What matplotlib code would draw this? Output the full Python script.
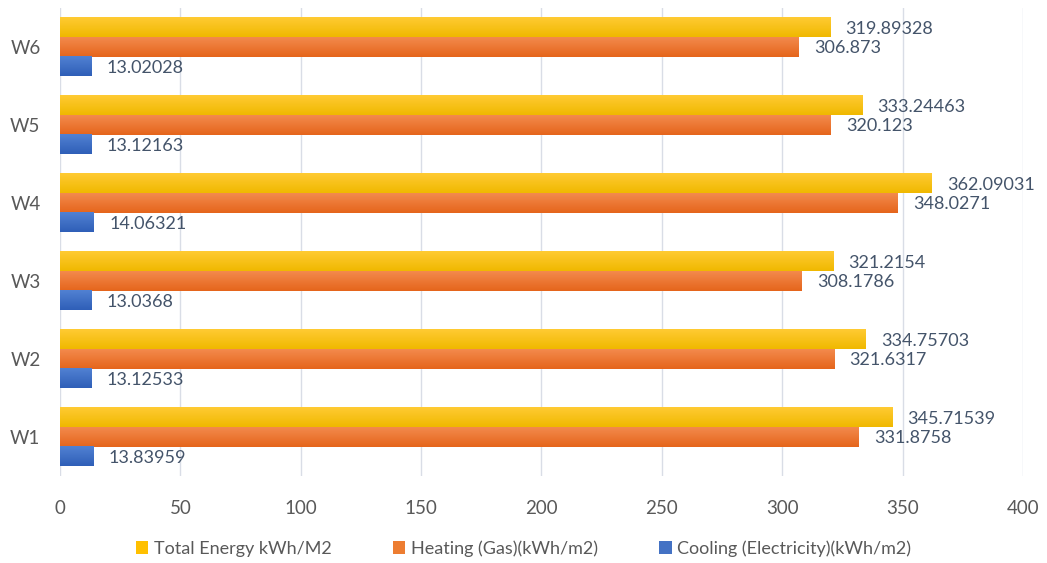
import numpy as np
import matplotlib.pyplot as plt
from matplotlib.colors import to_rgb
from matplotlib.patches import Patch

plt.rcParams['font.family'] = ['Lato', 'DejaVu Sans']

# energy results per window option
categories = ['W1', 'W2', 'W3', 'W4', 'W5', 'W6']
total_energy = [345.71539, 334.75703, 321.2154, 362.09031, 333.24463, 319.89328]
heating_gas = [331.8758, 321.6317, 308.1786, 348.0271, 320.123, 306.873]
cooling_elec = [13.83959, 13.12533, 13.0368, 14.06321, 13.12163, 13.02028]

series_names = ['Total Energy kWh/M2', 'Heating (Gas)(kWh/m2)', 'Cooling (Electricity)(kWh/m2)']
series_vals = [total_energy, heating_gas, cooling_elec]
# (top, bottom) colours of the vertical gradient on each bar
series_cols = [('#FFCB33', '#F0B800'), ('#F38A4C', '#E5651C'), ('#5181D2', '#2F5FB8')]
legend_cols = ['#FFC000', '#ED7D31', '#4472C4']

text_col = '#44546A'
tick_col = '#595959'

fig = plt.figure(figsize=(10.47, 5.63), dpi=100)
ax = fig.add_axes([0.0573, 0.1545, 0.9197, 0.8313])

y = np.arange(len(categories))
h = 0.25
offsets = [h, 0, -h]


def gradient_bar(ax, patch, top, bottom):
    x0, y0 = patch.get_x(), patch.get_y()
    w, hh = patch.get_width(), patch.get_height()
    c_top = np.array(to_rgb(top))
    c_bot = np.array(to_rgb(bottom))
    t = np.linspace(0, 1, 32)[:, None]
    img = (c_bot * (1 - t) + c_top * t)[:, None, :]
    ax.imshow(img, extent=[x0, x0 + w, y0, y0 + hh], origin='lower',
              aspect='auto', zorder=3, interpolation='bilinear')


for vals, off, (ctop, cbot) in zip(series_vals, offsets, series_cols):
    bars = ax.barh(y + off, vals, height=h, color='none', zorder=3)
    for p in bars.patches:
        gradient_bar(ax, p, ctop, cbot)
    for v, yy in zip(vals, y + off):
        ax.annotate(str(v), xy=(v, yy), xytext=(11, -1), textcoords='offset points',
                    va='center', ha='left', fontsize=13, color=text_col, zorder=4)

ax.set_xlim(0, 400)
ax.set_ylim(-0.5, len(categories) - 0.5)
ax.set_xticks(np.arange(0, 401, 50))
ax.set_yticks(y)
ax.set_yticklabels(categories)
ax.tick_params(axis='both', length=0, labelsize=13.5, labelcolor=tick_col)
ax.tick_params(axis='x', pad=17)
ax.tick_params(axis='y', pad=14)
ax.grid(axis='x', color='#D9DDE6', linewidth=1.0, zorder=0)
ax.set_axisbelow(True)
for s in ax.spines.values():
    s.set_visible(False)

handles = [Patch(facecolor=c, edgecolor='none') for c in legend_cols]
fig.legend(handles, series_names, loc='lower center', bbox_to_anchor=(0.5, -0.018),
           ncol=3, frameon=False, fontsize=13, handlelength=0.7, handleheight=0.7,
           handletextpad=0.3, columnspacing=3.4, labelcolor=tick_col)

fig.savefig('out.png', dpi=100)
